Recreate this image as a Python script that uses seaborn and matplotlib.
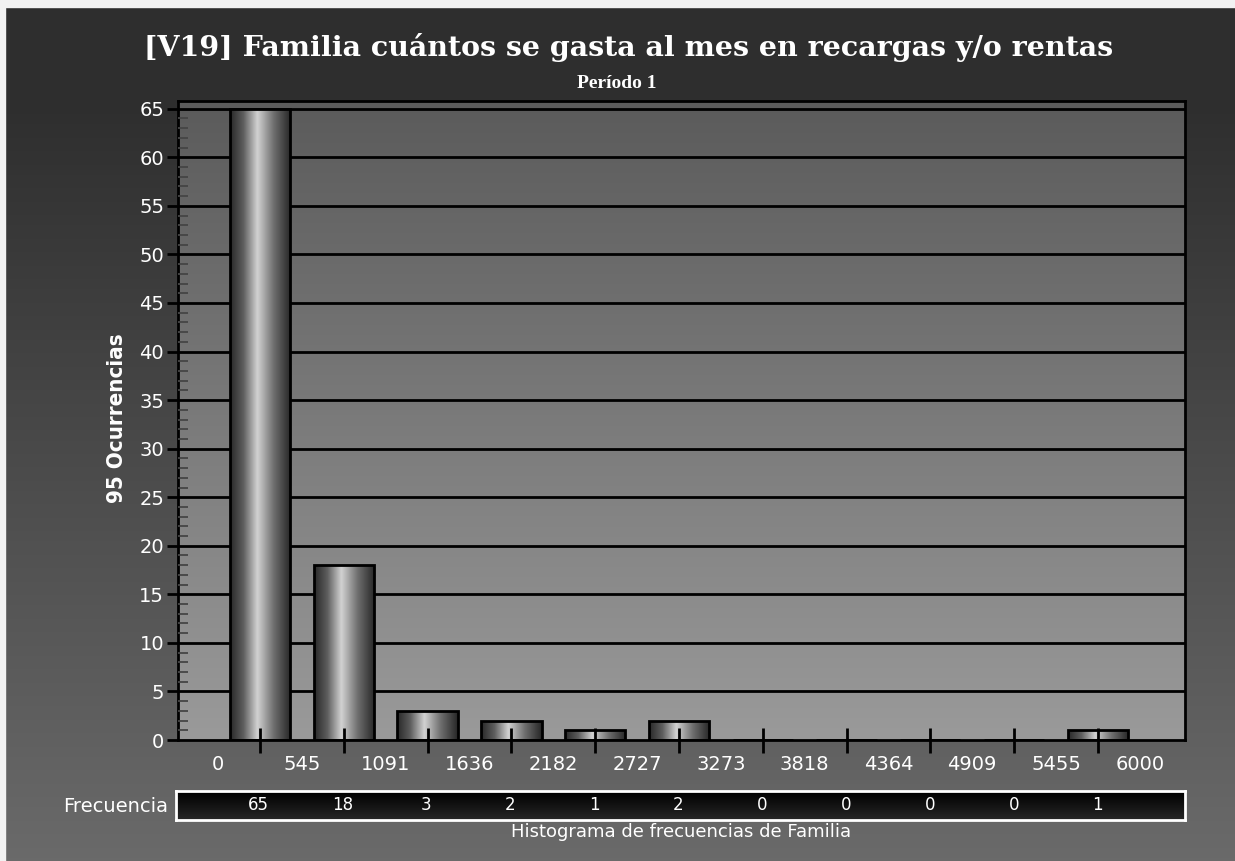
import numpy as np
import pandas as pd
import matplotlib
matplotlib.use('Agg')
import matplotlib.pyplot as plt
import seaborn as sns
from matplotlib.colors import LinearSegmentedColormap
from matplotlib.patches import Rectangle
from matplotlib.ticker import FixedLocator, FixedFormatter, MultipleLocator

# data
bins = list(range(11))
freq = [65, 18, 3, 2, 1, 2, 0, 0, 0, 0, 1]
edge_labels = ['0', '545', '1091', '1636', '2182', '2727', '3273',
               '3818', '4364', '4909', '5455', '6000']
title = '[V19] Familia cuántos se gasta al mes en recargas y/o rentas'
subtitle = 'Período 1'
ylabel = '95 Ocurrencias'
xlabel = 'Histograma de frecuencias de Familia'

df = pd.DataFrame({'bin': bins, 'freq': freq})

sns.set_theme(style='white')
plt.rcParams['font.family'] = ['DejaVu Sans']

W, H = 1235, 861
fig = plt.figure(figsize=(W / 100, H / 100), dpi=100)

# figure background gradient
bg = fig.add_axes([0, 0, 1, 1], zorder=-10)
bg_cmap = LinearSegmentedColormap.from_list('bg', [(0, '#2e2e2e'), (0.13, '#2f2f2f'), (1, '#6a6a6a')])
bg.imshow(np.linspace(0, 1, 256).reshape(-1, 1), aspect='auto', cmap=bg_cmap,
          extent=[0, 1, 0, 1], origin='upper')
bg.set_axis_off()
fig.patches.append(Rectangle((0, 1 - 7 / H), 1, 7 / H, transform=fig.transFigure,
                             color='#f2f2f2', zorder=5))
fig.patches.append(Rectangle((0, 0), 5 / W, 1, transform=fig.transFigure,
                             color='#f2f2f2', zorder=5))

ax = fig.add_axes([178 / W, 1 - 740 / H, (1185 - 178) / W, (740 - 101) / H])
ax.set_facecolor('none')
ax.set_axisbelow(False)

# plot area gradient
pa_cmap = LinearSegmentedColormap.from_list('pa', ['#5b5b5b', '#9a9a9a'])
ax.imshow(np.linspace(0, 1, 256).reshape(-1, 1), aspect='auto', cmap=pa_cmap,
          extent=[0, 1, 0, 1], origin='upper', transform=ax.transAxes, zorder=0)

sns.barplot(data=df, x='bin', y='freq', ax=ax, width=0.72, color='#888888',
            edgecolor='black', linewidth=2, zorder=1.5)

bar_cmap = LinearSegmentedColormap.from_list(
    'bar', [(0, '#282828'), (0.22, '#5e5e5e'), (0.45, '#d2d2d2'), (0.72, '#6e6e6e'), (1, '#262626')])
grad = np.linspace(0, 1, 256).reshape(1, -1)
for p in ax.patches:
    h = p.get_height()
    if h <= 0:
        continue
    x0 = p.get_x()
    im = ax.imshow(grad, aspect='auto', cmap=bar_cmap,
                   extent=[x0, x0 + p.get_width(), 0, h], zorder=1.6)
    im.set_clip_path(p)
    p.set_facecolor('none')
    p.set_zorder(1.7)

ax.set_xlim(-0.98, 11.04)
ax.set_ylim(0, 65.8)

# gridlines under bars
for v in range(5, 66, 5):
    ax.axhline(v, color='black', lw=2, zorder=0.8)

ax.yaxis.set_major_locator(MultipleLocator(5))
ax.yaxis.set_minor_locator(MultipleLocator(1))
ax.tick_params(axis='y', which='major', direction='out', length=8, width=2,
               color='black', labelcolor='white', labelsize=14, pad=2, left=True)
ax.tick_params(axis='y', which='minor', direction='in', length=7, width=1.3,
               color='#454545', left=True)

ax.xaxis.set_major_locator(FixedLocator(bins))
ax.xaxis.set_major_formatter(FixedFormatter([''] * len(bins)))
ax.xaxis.set_minor_locator(FixedLocator([i - 0.5 for i in range(len(edge_labels))]))
ax.xaxis.set_minor_formatter(FixedFormatter(edge_labels))
ax.tick_params(axis='x', which='major', direction='inout', length=18, width=2,
               color='black', bottom=True)
ax.tick_params(axis='x', which='minor', length=0, labelcolor='white',
               labelsize=14, pad=11, bottom=True)
ax.set_xlabel('')
ax.set_ylabel('')
for s in ax.spines.values():
    s.set_color('black')
    s.set_linewidth(2)
    s.set_visible(True)

# frequency table
tb = fig.add_axes([176 / W, 1 - 820 / H, (1185 - 176) / W, 29 / H])
tb_cmap = LinearSegmentedColormap.from_list('tb', ['#000000', '#262626'])
tb.imshow(np.linspace(0, 1, 64).reshape(-1, 1), aspect='auto', cmap=tb_cmap,
          extent=[0, 1, 0, 1], origin='upper', transform=tb.transAxes)
tb.set_xlim(ax.get_xlim())
tb.set_ylim(0, 1)
tb.set_xticks([])
tb.set_yticks([])
for s in tb.spines.values():
    s.set_color('white')
    s.set_linewidth(2)
for b, f in zip(bins, freq):
    tb.text(b, 0.5, str(f), color='white', fontsize=12, ha='center', va='center')

fig.text(168 / W, 1 - 806 / H, 'Frecuencia', color='white', fontsize=14,
         ha='right', va='center')
fig.text(681 / W, 1 - 832 / H, xlabel, color='white', fontsize=13,
         ha='center', va='center')

fig.text(117 / W, 1 - 418 / H, ylabel, color='white', fontsize=16, fontweight='bold',
         fontstretch='condensed', rotation=90, ha='center', va='center',
         family=['DejaVu Sans'])

fig.text(629 / W, 1 - 48 / H, title, color='white', fontsize=20.5, fontweight='bold',
         ha='center', va='center', family=['DejaVu Serif'])
fig.text(617 / W, 1 - 83 / H, subtitle, color='white', fontsize=14, fontweight='bold',
         ha='center', va='center', family=['Liberation Serif', 'DejaVu Serif'])

plt.savefig('out.png', dpi=100)
plt.close()
